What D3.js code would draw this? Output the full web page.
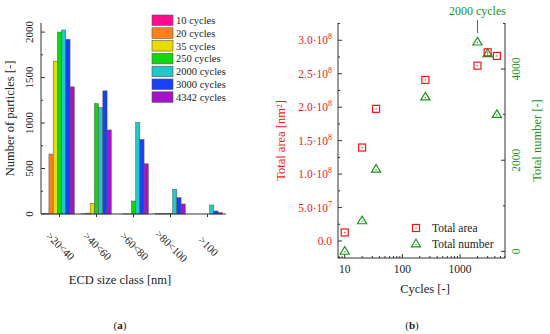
<!DOCTYPE html>
<html>
<head>
<meta charset="utf-8">
<script src="https://cdn.jsdelivr.net/npm/d3@7"></script>
<style>
  body { margin: 0; background: #fff; }
  svg { display: block; font-family: "Liberation Serif", "Times New Roman", serif; }
</style>
</head>
<body>
<div id="chart"></div>
<script>
// panel (a): particle counts per size class
var sizeClasses = [">20<40", ">40<60", ">60<80", ">80<100", ">100"];
var cycleNames = ["10 cycles", "20 cycles", "35 cycles", "250 cycles", "2000 cycles", "3000 cycles", "4342 cycles"];
var cycleColors = ["#ff0a8c", "#ff8018", "#e6dc00", "#10d810", "#20c8c8", "#1a40f5", "#a414c8"];
// one row per cycle count, one value per size class
var counts10   = [5, 2, 0, 3, 0];
var counts20   = [659, 10, 2, 3, 0];
var counts35   = [1681, 118, 2, 3, 0];
var counts250  = [2001, 1214, 143, 8, 0];
var counts2000 = [2023, 1170, 1008, 272, 99];
var counts3000 = [1920, 1354, 820, 180, 33];
var counts4342 = [1398, 924, 552, 110, 15];
var countTicks = [0, 500, 1000, 1500, 2000];

// panel (b): totals vs cycles
var cycles = [10, 20, 35, 250, 2000, 3000, 4342];
var totalArea = [1.28e7, 1.397e8, 1.975e8, 2.407e8, 2.62e8, 2.82e8, 2.766e8];
var totalNumber = [10, 679, 1811, 3395, 4600, 4346, 3010];
var areaTicks = [0, 5e7, 1e8, 1.5e8, 2e8, 2.5e8, 3e8];
var areaTickLabels = [["0.0", ""], ["5.0\u00b710", "7"], ["1.0\u00b710", "8"], ["1.5\u00b710", "8"], ["2.0\u00b710", "8"], ["2.5\u00b710", "8"], ["3.0\u00b710", "8"]];
var numberTicks = [0, 2000, 4000];
var cycleTicks = [10, 100, 1000];

var allCounts = [counts10, counts20, counts35, counts250, counts2000, counts3000, counts4342];

var W = 550, H = 334;
var svg = d3.select("#chart").append("svg").attr("width", W).attr("height", H);
var axisColor = "#333";
var red = "#f01818", green = "#1a941a";

// ---------------- panel (a) ----------------
var a = { left: 41, right: 226, top: 23, bottom: 214 };
var xa = d3.scaleBand().domain(sizeClasses).range([a.left, a.right]).paddingInner(0.2).paddingOuter(0.1);
var xin = d3.scaleBand().domain(cycleNames).range([0, xa.bandwidth()]);
var ya = d3.scaleLinear().domain([0, 2100]).range([a.bottom, a.top]);

var ga = svg.append("g");
cycleNames.forEach(function (name, i) {
  ga.selectAll("rect.s" + i)
    .data(allCounts[i])
    .enter().append("rect")
    .attr("x", function (d, j) { return xa(sizeClasses[j]) + xin(name); })
    .attr("y", function (d) { return ya(d); })
    .attr("width", xin.bandwidth())
    .attr("height", function (d) { return ya(0) - ya(d); })
    .attr("fill", cycleColors[i])
    .attr("stroke", "#555")
    .attr("stroke-width", 0.5);
});

// y axis (a)
ga.append("line").attr("x1", a.left).attr("x2", a.left).attr("y1", a.top).attr("y2", a.bottom)
  .attr("stroke", axisColor);
d3.range(0, 2001, 250).forEach(function (v) {
  var major = v % 500 === 0;
  ga.append("line").attr("x1", a.left).attr("x2", a.left + (major ? 4 : 2))
    .attr("y1", ya(v)).attr("y2", ya(v)).attr("stroke", axisColor);
});
ga.selectAll("text.yt").data(countTicks).enter().append("text")
  .attr("transform", function (d) { return "translate(33," + ya(d) + ") rotate(-90)"; })
  .attr("text-anchor", "middle")
  .attr("font-size", 11)
  .attr("fill", "#222")
  .text(function (d) { return d; });
ga.append("text")
  .attr("transform", "translate(14," + ((a.top + a.bottom) / 2) + ") rotate(-90)")
  .attr("text-anchor", "middle").attr("font-size", 12.5).attr("fill", "#222")
  .text("Number of particles [-]");

// x axis (a)
ga.append("line").attr("x1", a.left).attr("x2", a.right).attr("y1", a.bottom).attr("y2", a.bottom)
  .attr("stroke", axisColor);
sizeClasses.forEach(function (c) {
  var cx = xa(c) + xa.bandwidth() / 2;
  ga.append("line").attr("x1", cx).attr("x2", cx).attr("y1", a.bottom).attr("y2", a.bottom + 3)
    .attr("stroke", axisColor);
  ga.append("text")
    .attr("transform", "translate(" + (cx) + "," + (a.bottom + 33) + ") rotate(45)")
    .attr("text-anchor", "middle").attr("dominant-baseline", "middle")
    .attr("font-size", 11).attr("fill", "#222")
    .text(c);
});
ga.append("text").attr("x", 120).attr("y", 284).attr("text-anchor", "middle")
  .attr("font-size", 12.5).attr("fill", "#222").text("ECD size class [nm]");
ga.append("text").attr("x", 120).attr("y", 329).attr("text-anchor", "middle")
  .attr("font-size", 11).attr("fill", "#222")
  .html("(<tspan font-weight='bold'>a</tspan>)");

// legend (a)
cycleNames.forEach(function (name, i) {
  var ly = 15 + i * 12.8;
  ga.append("rect").attr("x", 152).attr("y", ly).attr("width", 21).attr("height", 10.5)
    .attr("fill", cycleColors[i]).attr("stroke", "#555").attr("stroke-width", 0.6);
  ga.append("text").attr("x", 176).attr("y", ly + 9).attr("font-size", 10.5).attr("fill", "#222").text(name);
});

// ---------------- panel (b) ----------------
var b = { left: 338, right: 505, top: 23, bottom: 258 };
var xb = d3.scaleLog().domain([7.65, 6000]).range([b.left, b.right]);
var yArea = d3.scaleLinear().domain([-2.54e7, 3.258e8]).range([b.bottom, b.top]);
var yNum = d3.scaleLinear().domain([-145, 5010]).range([b.bottom, b.top]);

var gb = svg.append("g");
gb.append("line").attr("x1", b.left).attr("x2", b.left).attr("y1", b.top).attr("y2", b.bottom).attr("stroke", axisColor);
gb.append("line").attr("x1", b.right).attr("x2", b.right).attr("y1", b.top).attr("y2", b.bottom).attr("stroke", axisColor);
gb.append("line").attr("x1", b.left).attr("x2", b.right).attr("y1", b.bottom).attr("y2", b.bottom).attr("stroke", axisColor);

// left ticks
d3.range(-2.5e7, 3.26e8, 2.5e7).forEach(function (v) {
  var major = Math.round(v / 2.5e7) % 2 === 0;
  gb.append("line").attr("x1", b.left).attr("x2", b.left + (major ? 4 : 2))
    .attr("y1", yArea(v)).attr("y2", yArea(v)).attr("stroke", axisColor);
});
var lt = gb.selectAll("text.al").data(areaTicks).enter().append("text")
  .attr("x", b.left - 6).attr("y", function (d) { return yArea(d) + 4; })
  .attr("text-anchor", "end").attr("font-size", 11.5).attr("fill", red);
lt.each(function (d, i) {
  var t = d3.select(this);
  t.append("tspan").text(areaTickLabels[i][0]);
  if (areaTickLabels[i][1]) {
    t.append("tspan").attr("dy", -5).attr("font-size", 8).text(areaTickLabels[i][1]);
  }
});
gb.append("text")
  .attr("transform", "translate(285," + ((b.top + b.bottom) / 2) + ") rotate(-90)")
  .attr("text-anchor", "middle").attr("font-size", 12.5).attr("fill", red)
  .text("Total area [nm\u00b2]");

// right ticks
d3.range(0, 5001, 1000).forEach(function (v) {
  var major = v % 2000 === 0;
  gb.append("line").attr("x1", b.right).attr("x2", b.right - (major ? 4 : 2))
    .attr("y1", yNum(v)).attr("y2", yNum(v)).attr("stroke", axisColor);
});
gb.selectAll("text.nr").data(numberTicks).enter().append("text")
  .attr("transform", function (d) { return "translate(520," + yNum(d) + ") rotate(-90)"; })
  .attr("text-anchor", "middle").attr("font-size", 11.5).attr("fill", green)
  .text(function (d) { return d; });
gb.append("text")
  .attr("transform", "translate(541," + ((b.top + b.bottom) / 2) + ") rotate(-90)")
  .attr("text-anchor", "middle").attr("font-size", 12.5).attr("fill", green)
  .text("Total number [-]");

// bottom ticks (log)
var minor = [];
[1, 10, 100, 1000].forEach(function (dec) {
  for (var k = 1; k < 10; k++) {
    var v = dec * k;
    if (v >= 7.65 && v <= 6000) minor.push(v);
  }
});
minor.forEach(function (v) {
  var major = cycleTicks.indexOf(v) !== -1;
  gb.append("line").attr("x1", xb(v)).attr("x2", xb(v))
    .attr("y1", b.bottom).attr("y2", b.bottom - (major ? 4 : 2)).attr("stroke", axisColor);
});
gb.selectAll("text.xt").data(cycleTicks).enter().append("text")
  .attr("x", function (d) { return xb(d); }).attr("y", b.bottom + 15)
  .attr("text-anchor", "middle").attr("font-size", 11.5).attr("fill", "#222")
  .text(function (d) { return d; });
gb.append("text").attr("x", 425).attr("y", 293).attr("text-anchor", "middle")
  .attr("font-size", 12.5).attr("fill", "#222").text("Cycles [-]");
gb.append("text").attr("x", 412).attr("y", 329).attr("text-anchor", "middle")
  .attr("font-size", 11).attr("fill", "#222")
  .html("(<tspan font-weight='bold'>b</tspan>)");

// markers
function square(g, x, y) {
  g.append("rect").attr("x", x - 3.5).attr("y", y - 3.5).attr("width", 7).attr("height", 7)
    .attr("fill", "none").attr("stroke", red).attr("stroke-width", 1.2);
  g.append("rect").attr("x", x - 0.6).attr("y", y - 0.6).attr("width", 1.2).attr("height", 1.2).attr("fill", red);
}
function triangle(g, x, y) {
  g.append("path").attr("d", "M" + x + "," + (y - 4.3) + "L" + (x + 4.6) + "," + (y + 3.3) + "L" + (x - 4.6) + "," + (y + 3.3) + "Z")
    .attr("fill", "none").attr("stroke", green).attr("stroke-width", 1.2);
  g.append("rect").attr("x", x - 0.6).attr("y", y + 0.2).attr("width", 1.2).attr("height", 1.2).attr("fill", green);
}
cycles.forEach(function (c, i) {
  triangle(gb, xb(c), yNum(totalNumber[i]));
});
cycles.forEach(function (c, i) {
  square(gb, xb(c), yArea(totalArea[i]));
});

// annotation
var ax = xb(2000);
gb.append("line").attr("x1", ax).attr("x2", ax).attr("y1", 20).attr("y2", 33).attr("stroke", green);
gb.append("text").attr("x", ax).attr("y", 15).attr("text-anchor", "middle")
  .attr("font-size", 12).attr("fill", green).text("2000 cycles");

// legend (b)
square(gb, 416, 228);
gb.append("text").attr("x", 432).attr("y", 232).attr("font-size", 11.5).attr("fill", "#222").text("Total area");
triangle(gb, 416, 243.5);
gb.append("text").attr("x", 432).attr("y", 248).attr("font-size", 11.5).attr("fill", "#222").text("Total number");
</script>
</body>
</html>
